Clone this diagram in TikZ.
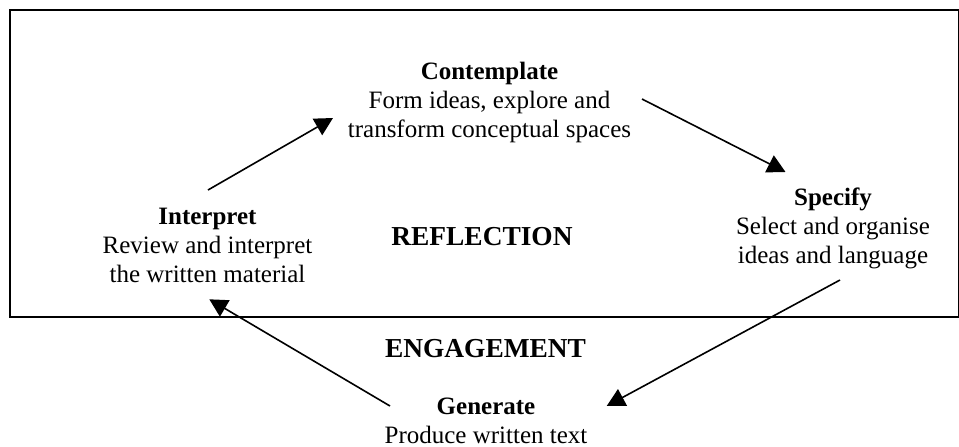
\documentclass[tikz,border=0pt]{standalone}
\usepackage{fontspec}
\setmainfont{Liberation Serif}
\usepackage{tikz}
\usetikzlibrary{arrows.meta, calc, positioning}

\tikzset{
  stagetext/.style={align=center, inner sep=0pt, anchor=base, font=\fontsize{12.5}{14.4}\selectfont},
  zonelabel/.style={inner sep=0pt, anchor=base, font=\fontsize{13.7}{16}\selectfont\bfseries},
  flow/.style={-{Triangle[length=9pt, width=9.4pt]}, line width=0.8pt}
}

\begin{document}
\begin{tikzpicture}[x=0.5pt, y=-0.5pt]
  \useasboundingbox (0,0) rectangle (959,446);

  % reflection region
  \draw[line width=1pt] (10,10) rectangle (958.5,316.5);

  % stages of the cycle (base = last line)
  \node[stagetext] (contemp) at (489.5,137) {\textbf{Contemplate}\\Form ideas, explore and\\transform conceptual spaces};
  \node[stagetext] (spec) at (833,263) {\textbf{Specify}\\Select and organise\\ideas and language};
  \node[stagetext] (gen) at (486,443) {\textbf{Generate}\\Produce written text};
  \node[stagetext] (interp) at (207.5,282) {\textbf{Interpret}\\Review and interpret\\the written material};

  \node[zonelabel] (refl) at (482,245) {REFLECTION};
  \node[zonelabel] (engage) at (485.5,357) {ENGAGEMENT};

  % cycle arrows
  \draw[flow] ($(interp.base)+(0.5,-92)$) -- ($(contemp.base)+(-156.5,-19)$);
  \draw[flow] ($(contemp.base)+(152.5,-38)$) -- ($(spec.base)+(-47.5,-91)$);
  \draw[flow] ($(spec.base)+(7,17)$) -- ($(gen.base)+(120.7,-37)$);
  \draw[flow] ($(gen.base)+(-96,-37)$) -- ($(interp.base)+(1.8,17.3)$);
\end{tikzpicture}
\end{document}
